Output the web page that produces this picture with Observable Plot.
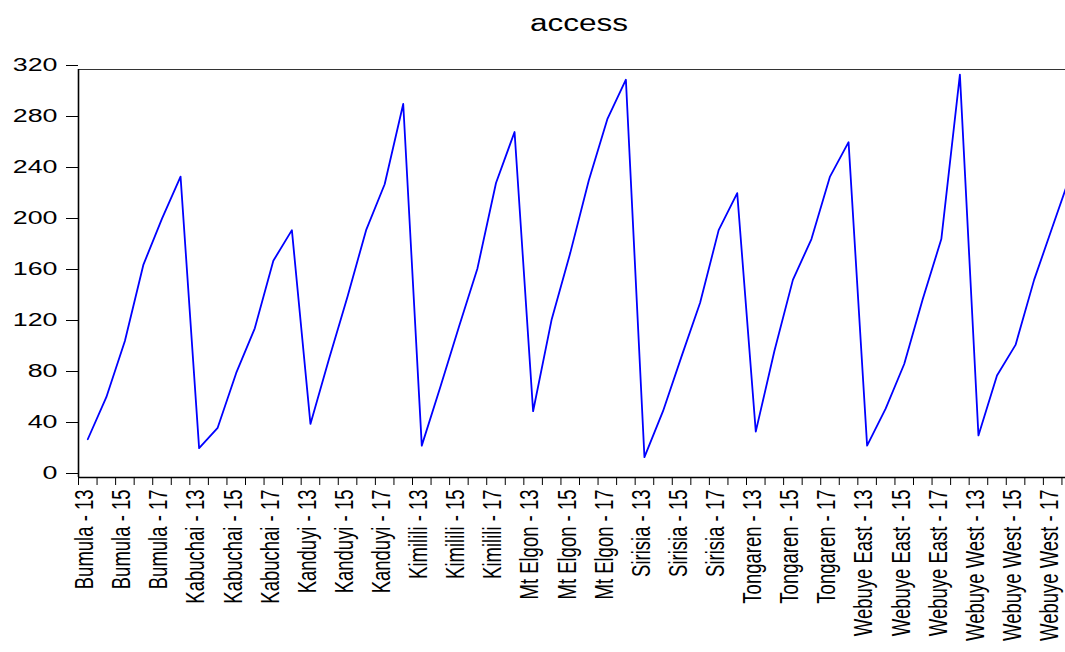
<!DOCTYPE html>
<html>
<head>
<meta charset="utf-8">
<script src="https://cdn.jsdelivr.net/npm/d3@7"></script>
<script src="https://cdn.jsdelivr.net/npm/@observablehq/plot@0.6"></script>
<style>
  html, body { margin: 0; padding: 0; background: #fff; overflow: hidden; }
  #wrap { position: relative; width: 1065px; height: 652px; }
  #title {
    position: absolute; top: 10px; white-space: nowrap;
    font: 23px "Liberation Sans", Arial, sans-serif; color: #000;
    transform-origin: 50% 50%;
  }
  #chart svg { display: block; }
</style>
</head>
<body>
<div id="wrap">
  <div id="chart"></div>
  <div id="title">access</div>
</div>
<script>
// Districts and survey years (20xx) on the x axis
const districts = ["Bumula", "Kabuchai", "Kanduyi", "Kimilili", "Mt Elgon", "Sirisia", "Tongaren", "Webuye East", "Webuye West"];
const years = [13, 14, 15, 16, 17, 18];

// "access" per district, years 13..18
const bumula     = [30, 63, 107, 167, 203, 236];
const kabuchai   = [23, 39, 82, 117, 170, 194];
const kanduyi    = [42, 93, 142, 194, 230, 293];
const kimilili   = [25, 71, 118, 164, 231, 271];
const mtElgon    = [52, 124, 176, 233, 281, 312];
const sirisia    = [16, 52, 95, 137, 194, 223];
const tongaren   = [36, 99, 155, 187, 236, 263];
const webuyeEast = [25, 54, 89, 140, 187, 316];
const webuyeWest = [33, 80, 104, 155, 197, 239];

const series = [bumula, kabuchai, kanduyi, kimilili, mtElgon, sirisia, tongaren, webuyeEast, webuyeWest];

// y axis ticks
const yTicks = [0, 40, 80, 120, 160, 200, 240, 280, 320];
// which years get a category label
const labelledYears = [13, 15, 17];

const rows = districts.flatMap((d, di) =>
  years.map((yr, yi) => ({
    i: di * years.length + yi,
    label: `${d} - ${yr}`,
    year: yr,
    value: series[di][yi]
  }))
);
const n = rows.length;
const edges = d3.range(n + 1).map(k => k - 0.5);
const labelIdx = rows.filter(r => labelledYears.includes(r.year)).map(r => r.i);

const font = '"Liberation Sans", Arial, sans-serif';

const chart = Plot.plot({
  width: 1065,
  height: 652,
  marginLeft: 78,
  marginRight: 0,
  marginTop: 69,
  marginBottom: 175,
  style: { fontFamily: font, color: "#000", background: "#fff" },
  x: { domain: [-0.5, n - 0.5], range: [78, 1080] },
  y: { domain: [0, 320] },
  marks: [
    Plot.ruleY([320], { stroke: "#333", strokeWidth: 1.2 }),
    Plot.ruleY([0], { stroke: "#000", strokeWidth: 1.4 }),
    Plot.ruleX([-0.5], { stroke: "#000", strokeWidth: 1.6 }),
    Plot.axisY({
      ticks: yTicks, tickSize: 12, tickPadding: 9, fontSize: 18.5, dy: -4,
      label: null, stroke: "#000"
    }),
    Plot.axisX({
      ticks: edges, tickSize: 8, tickFormat: () => "", label: null
    }),
    Plot.axisX({
      ticks: labelIdx, tickSize: 0, tickPadding: 12, tickRotate: -90, dx: -3,
      fontSize: 18.5, tickFormat: i => rows[i].label, label: null,
      ariaLabel: "x-axis category"
    }),
    Plot.line(rows, { x: "i", y: "value", stroke: "#0000ff", strokeWidth: 1.8, clip: true })
  ]
});

// widen glyphs horizontally around each label's anchor point
function stretch(root, selector, s) {
  root.querySelectorAll(selector).forEach(t => {
    const tr = t.getAttribute("transform");
    if (tr && /translate/.test(tr)) {
      t.setAttribute("transform", /rotate/.test(tr)
        ? tr.replace(/rotate/, `scale(${s},1) rotate`)
        : `${tr} scale(${s},1)`);
    } else {
      const x = +(t.getAttribute("x") || 0), y = +(t.getAttribute("y") || 0);
      t.removeAttribute("x"); t.removeAttribute("y");
      t.setAttribute("transform", `translate(${x},${y}) scale(${s},1)`);
    }
  });
}
stretch(chart, 'g[aria-label="y-axis tick label"] text', 1.45);
stretch(chart, 'g[aria-label="x-axis category tick label"] text', 1.4);

document.getElementById("chart").appendChild(chart);

// title centred over the plotting frame
const xr = chart.scale("x").range;
const title = document.getElementById("title");
title.style.left = ((xr[0] + xr[1]) / 2) + "px";
title.style.transform = "translateX(-50%) scaleX(1.37)";
</script>
</body>
</html>
